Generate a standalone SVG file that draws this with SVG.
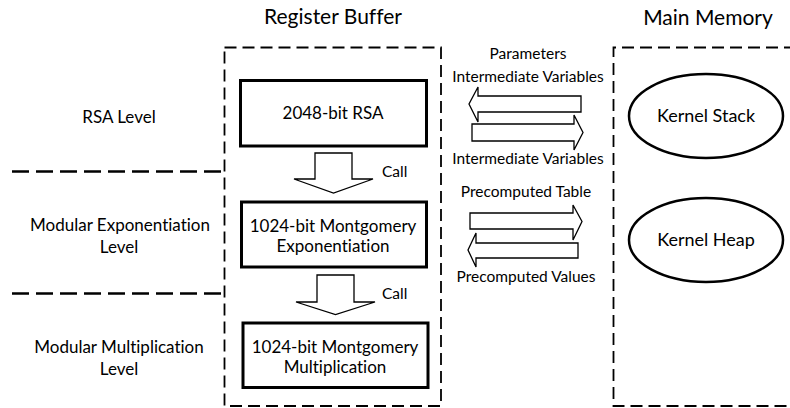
<svg xmlns="http://www.w3.org/2000/svg" width="790" height="408" viewBox="0 0 790 408">
<style>
text{font-family:Lato,"Open Sans","Liberation Sans",sans-serif;fill:#000;text-anchor:middle;font-variant-ligatures:none;font-feature-settings:"liga" 0}
.t{font-size:21px}
.l{font-size:17px}
.b{font-size:17px}
.a{font-size:15.5px}
.k{font-size:18px}
.c{font-size:15.5px;text-anchor:start}
.region{fill:none;stroke:#000;stroke-width:1.8;stroke-dasharray:12 6}
.sep{fill:none;stroke:#000;stroke-width:2.6;stroke-dasharray:17 7}
.box{fill:#fff;stroke:#000;stroke-width:3}
.ell{fill:#fff;stroke:#000;stroke-width:2.5}
.blk{fill:#fff;stroke:#000;stroke-width:1.3;stroke-linejoin:miter}
</style>
<g id="titles">
<text class="t" x="333" y="24">Register Buffer</text>
<text class="t" x="708" y="25">Main Memory</text>
</g>
<g id="regions">
<rect class="region" x="224.5" y="47.5" width="216.5" height="358.5"/>
<path class="region" d="M796 47.5H613.5V406H796"/>
<line class="sep" x1="12" y1="171.5" x2="222" y2="171.5"/>
<line class="sep" x1="12" y1="293.5" x2="222" y2="293.5"/>
</g>
<g id="levels">
<text class="l" x="119" y="123">RSA Level</text>
<text class="l" x="120" y="231">Modular Exponentiation</text>
<text class="l" x="119" y="253">Level</text>
<text class="l" x="119" y="353">Modular Multiplication</text>
<text class="l" x="119" y="375">Level</text>
</g>
<g id="rsa">
<rect class="box" x="240.5" y="80.5" width="186" height="65.5"/>
<text class="b" x="333" y="119">2048-bit RSA</text>
</g>
<g id="modexp">
<rect class="box" x="241.5" y="202" width="185" height="65"/>
<text class="b" x="333" y="232">1024-bit Montgomery</text>
<text class="b" x="333" y="252">Exponentiation</text>
</g>
<g id="modmul">
<rect class="box" x="243" y="323" width="185" height="64.5"/>
<text class="b" x="335" y="353">1024-bit Montgomery</text>
<text class="b" x="335" y="373">Multiplication</text>
</g>
<g id="stack">
<ellipse class="ell" cx="706" cy="116" rx="77" ry="42"/>
<text class="k" x="706" y="122">Kernel Stack</text>
</g>
<g id="heap">
<ellipse class="ell" cx="706" cy="240" rx="77" ry="42"/>
<text class="k" x="706" y="246">Kernel Heap</text>
</g>
<g id="connectors">
<path class="blk" d="M315 153H352V179H373L333.5 193L294 179H315Z"/>
<text class="c" x="382" y="177">Call</text>
<path class="blk" d="M317 275H354V302H375L335.5 314.5L296 302H317Z"/>
<text class="c" x="382" y="299">Call</text>
<path class="blk" d="M581 96H478V87L469 104L478 122V112H581Z"/>
<path class="blk" d="M472 124H574V115L583 132.5L574 150V141H472Z"/>
<text class="a" x="528" y="59">Parameters</text>
<text class="a" x="528" y="82">Intermediate Variables</text>
<text class="a" x="528" y="164">Intermediate Variables</text>
<path class="blk" d="M470 213H573V205L582 221.5L573 240V229H470Z"/>
<path class="blk" d="M578 243H476V233L468 250L476 267V258H578Z"/>
<text class="a" x="526" y="197">Precomputed Table</text>
<text class="a" x="526" y="282">Precomputed Values</text>
</g>
</svg>
